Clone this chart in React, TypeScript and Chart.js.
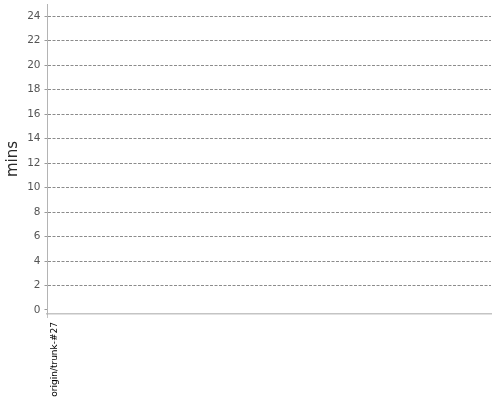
import React, { useEffect, useRef } from "react";
import { Chart, registerables } from "chart.js";

Chart.register(...registerables);

// one build on the x axis, nothing plotted for it
const builds = ["origin/trunk-#27"];
const buildMins: (number | null)[] = [null];
const yTicks = [0, 2, 4, 6, 8, 10, 12, 14, 16, 18, 20, 22, 24];

const FONT = "'DejaVu Sans', sans-serif";

const BuildTimeChart: React.FC = () => {
  const canvasRef = useRef<HTMLCanvasElement>(null);
  const chartRef = useRef<Chart | null>(null);

  useEffect(() => {
    if (!canvasRef.current) return;
    if (chartRef.current) chartRef.current.destroy();

    chartRef.current = new Chart(canvasRef.current, {
      type: "line",
      data: {
        labels: builds,
        datasets: [{
          label: "build time",
          data: buildMins,
          borderColor: "#4f6ef7",
          pointRadius: 0,
        }],
      },
      options: {
        responsive: false,
        animation: false,
        layout: { padding: { top: 4, right: 9, bottom: 0, left: 0 } },
        plugins: { legend: { display: false }, tooltip: { enabled: false } },
        scales: {
          x: {
            type: "category",
            offset: false,
            border: { display: true, color: "#c4c4c4", width: 1.5 },
            grid: {
              drawOnChartArea: false,
              drawTicks: true,
              tickLength: 4,
              tickColor: "#c4c4c4",
            },
            ticks: {
              minRotation: 90,
              maxRotation: 90,
              autoSkip: false,
              padding: 4,
              labelOffset: 8,
              color: "#000",
              font: { family: FONT, size: 9 },
            },
            afterFit: (s: any) => { s.height = 86; },
          },
          y: {
            min: -0.33,
            max: 25,
            border: { display: true, color: "#b4b4b4", width: 1, dash: [3, 1.5] },
            grid: {
              color: (ctx: any) => (ctx.tick && ctx.tick.value === 0 ? "rgba(0,0,0,0)" : "#8c8c8c"),
              drawTicks: true,
              tickLength: 2.5,
              tickColor: "#9a9a9a",
              tickBorderDash: [],
            },
            afterBuildTicks: (s: any) => {
              s.ticks = yTicks.map((v) => ({ value: v }));
            },
            ticks: {
              padding: 4,
              color: "#555",
              font: { family: FONT, size: 10.5 },
            },
            title: {
              display: true,
              text: "mins",
              color: "#2a2a2a",
              font: { family: FONT, size: 15 },
              padding: { top: 4, bottom: 4 },
            },
            afterFit: (s: any) => {
              s.width = 47;
              s.paddingTop = 0;
              s.paddingBottom = 0;
            },
          },
        },
      },
    });

    return () => chartRef.current?.destroy();
  }, []);

  return (
    <div style={{ position: "fixed", left: 0, top: 0, width: 500, height: 400, background: "#fff" }}>
      <canvas ref={canvasRef} width={500} height={400} />
    </div>
  );
};

export default function App() {
  return <BuildTimeChart />;
}
